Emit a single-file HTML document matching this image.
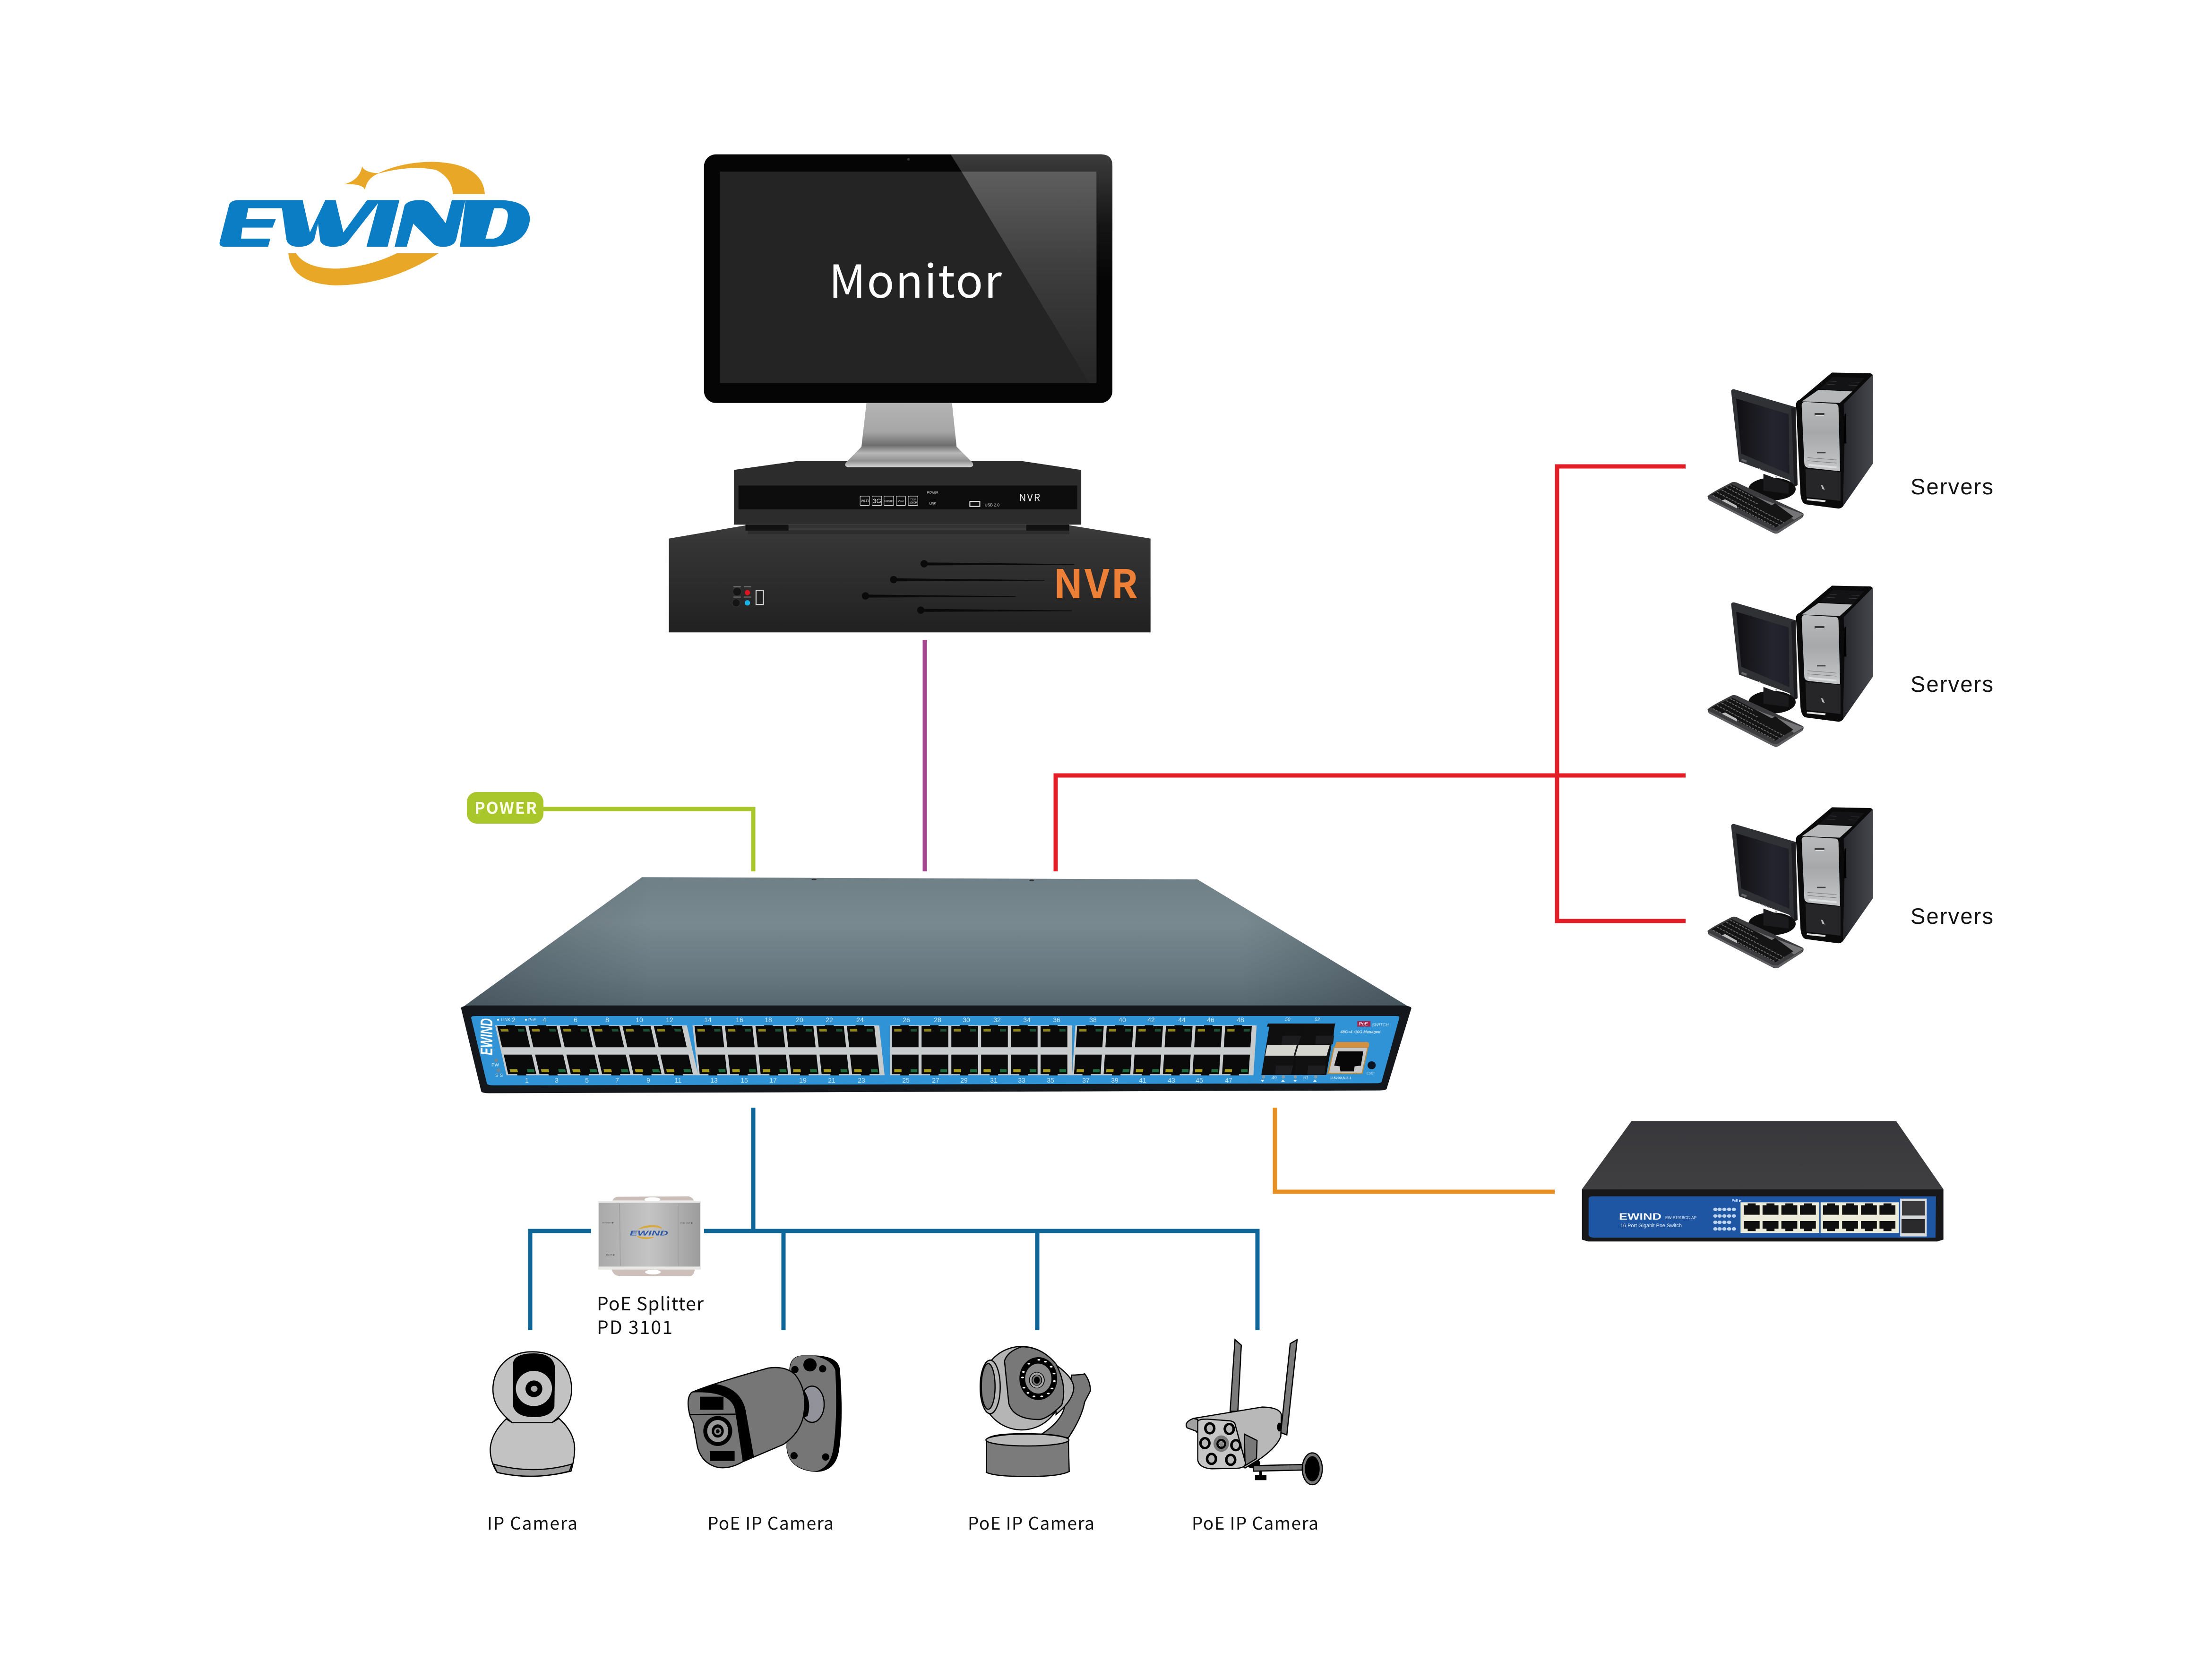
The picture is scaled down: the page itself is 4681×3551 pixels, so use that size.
<!DOCTYPE html>
<html><head><meta charset="utf-8"><title>EWIND PoE Switch Topology</title>
<style>html,body{margin:0;padding:0;background:#fff;width:4681px;height:3551px;overflow:hidden}svg{display:block}
.l{font-family:"Noto Sans CJK SC","Liberation Sans",sans-serif;fill:#111}
.s{font-family:"Liberation Sans",sans-serif}
.ln{fill:none;stroke-linejoin:miter}
.k{stroke:#000;stroke-width:2.5;vector-effect:non-scaling-stroke}
</style></head><body>
<svg xmlns="http://www.w3.org/2000/svg" width="4681" height="3551" viewBox="0 0 4681 3551">
<defs>
<linearGradient id="gl" x1="0" y1="0" x2="0" y2="1"><stop offset="0" stop-color="#5e5e5e"/><stop offset=".45" stop-color="#3e3e3e"/><stop offset="1" stop-color="#262626"/></linearGradient>
<linearGradient id="gb" x1="0" y1="0" x2="0" y2="1"><stop offset="0" stop-color="#3c3c3c"/><stop offset=".55" stop-color="#151515"/><stop offset="1" stop-color="#050505"/></linearGradient>
<linearGradient id="st" x1="0" y1="0" x2="0" y2="1"><stop offset="0" stop-color="#b4b4b4"/><stop offset=".45" stop-color="#a6a6a6"/><stop offset=".66" stop-color="#6e6e6e"/><stop offset=".78" stop-color="#b8b8b8"/><stop offset=".9" stop-color="#909090"/><stop offset="1" stop-color="#d8d8d8"/></linearGradient>
<linearGradient id="bx" x1="0" y1="0" x2="0" y2="1"><stop offset="0" stop-color="#3d3d3d"/><stop offset=".15" stop-color="#353535"/><stop offset="1" stop-color="#212121"/></linearGradient>
<linearGradient id="tp" x1="0" y1="0" x2="0" y2="1"><stop offset="0" stop-color="#6f8087"/><stop offset=".35" stop-color="#78898f"/><stop offset=".75" stop-color="#667780"/><stop offset="1" stop-color="#566770"/></linearGradient>
<linearGradient id="tp2" x1="0" y1="0" x2="1" y2="0"><stop offset="0" stop-color="#2c363c" stop-opacity=".35"/><stop offset=".2" stop-color="#2c363c" stop-opacity="0"/><stop offset=".82" stop-color="#2c363c" stop-opacity="0"/><stop offset="1" stop-color="#2c363c" stop-opacity=".4"/></linearGradient>
<linearGradient id="sp" x1="0" y1="0" x2="1" y2="0"><stop offset="0" stop-color="#a9a9a9"/><stop offset=".5" stop-color="#c4c4c4"/><stop offset="1" stop-color="#9d9d9d"/></linearGradient>
<linearGradient id="sv" x1="0" y1="0" x2="0" y2="1"><stop offset="0" stop-color="#b8babc"/><stop offset=".45" stop-color="#a6a8aa"/><stop offset="1" stop-color="#c4c6c8"/></linearGradient>
<linearGradient id="sc" x1="0" y1="0" x2="1" y2="0"><stop offset="0" stop-color="#101013"/><stop offset=".7" stop-color="#25252f"/><stop offset="1" stop-color="#1e1e28"/></linearGradient>
<linearGradient id="sd" x1="0" y1="0" x2="1" y2="0"><stop offset="0" stop-color="#26272c"/><stop offset="1" stop-color="#46474d"/></linearGradient>
<linearGradient id="ts" x1="0" y1="0" x2="0" y2="1"><stop offset="0" stop-color="#38383c"/><stop offset="1" stop-color="#3f3f41"/></linearGradient>

<g id="pt"><rect x="0" y="3" width="44" height="122" fill="#0a0a0a"/><rect x="14" y="-1" width="14" height="10" fill="#0a0a0a"/><rect x="4" y="19" width="12" height="16" fill="#8f851c"/><rect x="31" y="19" width="10" height="16" fill="#1e4f35"/></g>
<g id="pb"><rect x="0" y="167" width="44" height="112" fill="#0a0a0a"/><rect x="14" y="270" width="14" height="16" fill="#0a0a0a"/><rect x="4" y="250" width="12" height="18" fill="#a59a1c"/><rect x="31" y="250" width="11" height="18" fill="#1f6a3e"/></g>
<g id="blk">
<rect width="300" height="285" fill="#c8cbcb"/>
<use href="#pt" x="3"/><use href="#pt" x="52"/><use href="#pt" x="101"/><use href="#pt" x="150"/><use href="#pt" x="199"/><use href="#pt" x="248"/>
<use href="#pb" x="3"/><use href="#pb" x="52"/><use href="#pb" x="101"/><use href="#pb" x="150"/><use href="#pb" x="199"/><use href="#pb" x="248"/>
</g>

<g id="srv">
<path d="M830,25 L1075,30 Q1092,35 1092,55 L1092,600 L900,875 Q885,892 865,888 L665,862 Q635,855 630,790 L602,225 Q605,205 625,198 Z" fill="#0a0a0b"/>
<path d="M905,225 L1090,38 L1092,600 L900,875 L910,480 Z" fill="url(#sd)"/>
<polygon points="835,52 1035,60 965,140 750,130" fill="#131316"/>
<g stroke="#3a3a3e" stroke-width="3"><line x1="815" y1="80" x2="860" y2="82"/><line x1="800" y1="100" x2="850" y2="102"/><line x1="950" y1="85" x2="1005" y2="87"/><line x1="935" y1="105" x2="990" y2="107"/></g>
<polygon points="745,135 960,145 880,218 640,208" fill="#b5b7b9"/>
<path d="M638,232 Q640,212 662,212 L855,224 Q872,228 872,250 L882,652 L680,630 Q658,626 655,605 Z" fill="url(#sv)"/>
<rect x="720" y="282" width="62" height="16" fill="#3a3a3a"/><rect x="725" y="296" width="56" height="4" fill="#eee"/>
<rect x="735" y="530" width="55" height="8" fill="#444"/>
<line x1="675" y1="565" x2="860" y2="580" stroke="#777" stroke-width="3"/><line x1="675" y1="585" x2="860" y2="600" stroke="#777" stroke-width="3"/>
<polygon points="682,605 860,622 860,634 682,618" fill="#dedede"/>
<polygon points="662,636 885,656 885,840 668,815" fill="#262628"/>
<polygon points="672,825 790,836 788,848 670,836" fill="#dcdcdc"/>
<polygon points="760,738 772,742 785,770 770,765" fill="#bbb"/>
<polygon points="910,290 920,285 922,475 905,475" fill="#000"/>
<path d="M190,142 Q195,128 212,132 L600,245 L612,740 L588,752 L560,708 L240,590 Z" fill="#2f3135"/>
<polygon points="222,190 555,290 560,670 255,540" fill="url(#sc)"/>
<polygon points="572,255 600,245 612,740 590,752" fill="#1d1d20"/>
<g fill="#9a9a9a"><circle cx="370" cy="636" r="4"/><circle cx="388" cy="645" r="4"/><circle cx="407" cy="653" r="4"/><circle cx="426" cy="660" r="4"/><circle cx="477" cy="686" r="6"/></g>
<rect x="255" y="578" width="34" height="14" fill="#666" transform="rotate(20 272 585)"/>
<ellipse cx="450" cy="765" rx="150" ry="72" fill="#0d0d0d"/>
<polygon points="395,668 555,728 555,795 395,775" fill="#1b1b1d"/>
<path d="M40,812 Q50,795 195,722 Q215,715 240,730 L648,918 Q655,935 640,948 L490,1045 Q470,1052 450,1040 L48,835 Z" fill="#3c3c3e"/>
<polygon points="48,835 450,1040 490,1045 640,948 640,935 485,1030 455,1028 52,822" fill="#5e5e62"/>
<polygon points="65,800 195,735 585,940 470,1010" fill="#141414"/>
<polygon points="345,810 395,832 650,925 590,960 460,875" fill="#757578"/>
<polygon points="385,905 470,855 585,940 470,1010" fill="#141414"/>
<g stroke="#68686a" stroke-width="6" stroke-dasharray="14 7" fill="none">
<line x1="100" y1="785" x2="500" y2="995"/><line x1="130" y1="770" x2="525" y2="978"/><line x1="160" y1="755" x2="360" y2="860"/><line x1="185" y1="742" x2="330" y2="818"/><line x1="75" y1="806" x2="130" y2="835"/><line x1="230" y1="880" x2="465" y2="1003"/>
</g>
<polygon points="130,838 152,830 228,872 228,888" fill="#bdbdbd"/>
</g>
</defs>

<!-- logo -->
<g transform="translate(430,310) scale(.4656,.3333)">
<path fill="#0a7dc4" d="M118,370 Q125,340 165,340 L452,340 L485,545 L555,340 L602,340 L637,545 L745,340 L892,340 L838,637 L742,637 L795,360 L660,600 Q640,637 590,637 Q545,637 532,600 L522,490 L505,590 Q485,637 435,637 Q385,637 378,590 L358,392 L205,392 L195,462 L330,462 L315,515 L178,515 L172,585 L305,585 L295,637 L100,637 Q70,637 75,605 Z"/>
<path fill="#0a7dc4" d="M915,375 Q930,340 985,340 Q1020,340 1035,365 L1102,487 L1130,340 L1192,340 L1150,590 Q1140,637 1090,637 Q1055,637 1040,610 L955,490 L925,637 L870,637 Z"/>
<path fill="#0a7dc4" fill-rule="evenodd" d="M1192,340 L1340,340 Q1485,340 1485,465 Q1470,637 1300,637 L1167,637 Z M1322,392 L1283,585 L1320,585 Q1375,570 1385,440 Q1385,392 1350,392 Z"/>
<path fill="#e8a727" d="M722,127 Q735,165 795,170 Q900,100 1040,97 Q1270,105 1280,302 L1135,302 Q1130,200 1060,150 Q950,115 795,172 Q745,200 735,275 Q725,235 640,240 Q710,215 722,127 Z"/>
<path fill="#e8a727" d="M387,678 L422,678 Q470,780 620,775 Q760,760 880,678 L1070,678 Q850,880 600,882 Q400,870 387,678 Z"/>
</g>

<!-- connectors -->
<g class="ln" stroke-width="9">
<path stroke="#a9c62b" d="M1149,1712 H1594 V1844"/>
<path stroke="#a5478f" d="M1957,1354 V1844"/>
<path stroke="#e31e26" d="M2234,1844 V1641 H3567 M3567,987 H3295 V1949 H3567"/>
<path stroke="#0f6699" d="M1594,2344 V2605 M1490,2605 H2661 V2815 M1658,2605 V2815 M2195,2605 V2815 M1251,2605 H1122 V2815"/>
<path stroke="#e88f22" d="M2698,2344 V2522 H3290"/>
</g>

<!-- monitor + NVR -->
<g transform="translate(1400,300) scale(.7015)">
<polygon points="22,1197 255,1157 1230,1157 1475,1197 1475,1480 22,1480" fill="url(#bx)"/>
<rect x="260" y="1172" width="970" height="12" fill="#1c1c1c" opacity=".4"/>
<rect x="128" y="38" width="1232" height="750" rx="36" fill="#050505"/>
<path d="M872,38 L1325,38 Q1360,38 1360,72 L1360,420 L1312,420 L1312,90 L905,90 Z" fill="url(#gb)"/>
<rect x="176" y="90" width="1136" height="638" fill="#242424"/>
<polygon points="905,90 1312,90 1312,728 1290,728" fill="url(#gl)"/>
<circle cx="745" cy="53" r="4" fill="#333"/>
<path d="M218,990 L410,963 L1085,963 L1266,990 L1266,1155 L218,1155 Z" fill="#2c2c2c"/>
<rect x="232" y="1037" width="1022" height="72" fill="#0d0d0d"/>
<rect x="253" y="1155" width="130" height="18" fill="#111"/><rect x="1100" y="1155" width="130" height="18" fill="#111"/><rect x="383" y="1155" width="717" height="10" fill="#333"/>
<path d="M618,788 L876,788 L890,920 L938,968 Q945,982 925,982 L570,982 Q548,982 556,968 L603,920 Z" fill="url(#st)"/>
<g fill="none" stroke="#e8e8e8" stroke-width="1.6"><rect x="599" y="1069" width="28" height="28" rx="2"/><rect x="635" y="1069" width="29" height="28" rx="2"/><rect x="671" y="1069" width="29" height="28" rx="2"/><rect x="708" y="1069" width="28" height="28" rx="2"/><rect x="744" y="1069" width="29" height="28" rx="2"/></g>
<g class="s" fill="#e8e8e8" text-anchor="middle"><text x="613" y="1087" font-size="10">Wi-Fi</text><text x="650" y="1090" font-size="19">3G</text><text x="685" y="1087" font-size="9">AUDIO</text><text x="722" y="1087" font-size="9">VGA</text><text x="759" y="1082" font-size="8">720P</text><text x="759" y="1091" font-size="8">1080P</text>
<text x="818" y="1061" font-size="9">POWER</text><text x="818" y="1094" font-size="9">LINK</text><text x="997" y="1100" font-size="12">USB 2.0</text></g>
<rect x="930" y="1085" width="30" height="15" fill="none" stroke="#ddd" stroke-width="3"/>
<text x="1078" y="1084" class="l" style="fill:#eee" font-size="30" textLength="64" lengthAdjust="spacing">NVR</text>
<g fill="#0a0a0a"><circle cx="792" cy="1273" r="11"/><circle cx="700" cy="1321" r="11"/><circle cx="615" cy="1370" r="11"/><circle cx="782" cy="1413" r="11"/>
<polygon points="792,1269 1245,1274 1245,1276 792,1278"/><polygon points="700,1317 1155,1322 1155,1324 700,1326"/><polygon points="615,1366 1068,1371 1068,1373 615,1375"/><polygon points="782,1409 1238,1414 1238,1416 782,1418"/></g>
<circle cx="228" cy="1357" r="13" fill="#141414" stroke="#333" stroke-width="2"/><circle cx="225" cy="1391" r="12" fill="#141414" stroke="#333" stroke-width="2"/><circle cx="259" cy="1360" r="8" fill="#e0141e"/><circle cx="259" cy="1391" r="8" fill="#18b4e8"/>
<rect x="217" y="1341" width="22" height="3" fill="#777"/><rect x="248" y="1341" width="22" height="3" fill="#777"/><rect x="217" y="1372" width="22" height="3" fill="#777"/><rect x="248" y="1372" width="22" height="3" fill="#777"/>
<rect x="285" y="1353" width="22" height="43" fill="#222" stroke="#ddd" stroke-width="3"/>
</g>
<text class="l" x="1754" y="630" font-size="96" style="fill:#fff" textLength="366" lengthAdjust="spacing">Monitor</text>
<text class="l" x="2229" y="1266" font-size="84" font-weight="700" style="fill:#ed8036" textLength="179" lengthAdjust="spacing">NVR</text>

<!-- servers -->
<g transform="translate(3600,780) scale(.3333)"><use href="#srv"/></g>
<g transform="translate(3600,1231) scale(.3333)"><use href="#srv"/></g>
<g transform="translate(3600,1700) scale(.3333)"><use href="#srv"/></g>
<g class="s" fill="#111" font-size="47">
<text x="4043" y="1046" textLength="175" lengthAdjust="spacing">Servers</text>
<text x="4043" y="1464" textLength="175" lengthAdjust="spacing">Servers</text>
<text x="4043" y="1955" textLength="175" lengthAdjust="spacing">Servers</text>
</g>

<!-- power pill -->
<rect x="988" y="1676" width="162" height="67" rx="21" fill="#a9c62b"/>
<text class="l" x="1004" y="1722" font-size="34" font-weight="700" style="fill:#fbfde8" textLength="132" lengthAdjust="spacing">POWER</text>

<!-- main switch -->
<g transform="translate(930,1800) scale(1.339,.36996)">
<polygon points="320,152 1198,165 1535,900 35,900" fill="url(#tp)"/>
<polygon points="320,152 1198,165 1535,900 35,900" fill="url(#tp2)"/>
<circle cx="592" cy="165" r="4" fill="#333"/><circle cx="936" cy="170" r="4" fill="#333"/>
<path d="M34,900 Q36,888 50,886 L1520,886 Q1536,888 1536,902 L1497,1362 Q1496,1372 1485,1372 L78,1388 Q68,1388 66,1378 Z" fill="#14171c"/>
<path d="M58,946 L1510,946 Q1518,946 1517,956 L1489,1322 Q1488,1331 1480,1331 L86,1343 Q76,1343 75,1333 L50,956 Q50,946 58,946Z" fill="#2f93d6"/>
<use href="#blk" transform="matrix(1.01,0,.063,1,88,1000)"/>
<use href="#blk" transform="matrix(.983,0,.03,1,400,1000)"/>
<use href="#blk" transform="matrix(.96,0,0,1,712,1000)"/>
<use href="#blk" transform="matrix(.955,0,-.018,1,1005,1000)"/>
</g>
<!-- right end detail -->
<g transform="translate(2620,2130) scale(.3333)">
<polygon points="190,108 618,108 610,128 182,128" fill="#0e0e0e"/>
<polygon points="200,115 615,115 560,435 148,435" fill="#0e0e0e"/>
<polygon points="185,245 582,245 562,312 172,312" fill="#d5d5d0"/>
<polygon points="205,118 402,118 380,245 185,245" fill="#0f0f10"/>
<polygon points="282,185 402,185 380,245 275,245" fill="#1d1d1f"/>
<polygon points="420,118 612,118 602,240 395,240" fill="#0f0f10"/>
<polygon points="495,185 610,185 602,240 490,240" fill="#1d1d1f"/>
<polygon points="170,312 360,312 335,432 148,432" fill="#111112"/>
<polygon points="240,375 350,375 335,432 235,432" fill="#1e1e20"/>
<polygon points="372,315 560,315 552,425 520,432 355,432" fill="#111112"/>
<polygon points="445,375 555,375 550,425 520,432 440,432" fill="#1e1e20"/>
<line x1="378" y1="245" x2="358" y2="312" stroke="#15171a" stroke-width="10"/>
<path d="M625,225 L815,225 Q835,225 832,250 L826,262 L610,262 Z" fill="#d39040"/>
<polygon points="605,258 828,258 790,428 566,428" fill="#bd8b3c"/>
<polygon points="612,262 820,262 785,420 578,420" fill="#c8c8c8"/>
<polygon points="635,285 795,285 780,375 740,380 735,412 650,412 645,380 610,375" fill="#070707"/>
<ellipse cx="848" cy="373" rx="26" ry="25" fill="#0a1420"/>
<rect x="757" y="92" width="84" height="36" fill="#a5274f"/>
<g fill="#8a9ca4"><circle cx="162" cy="447" r="10"/><circle cx="288" cy="447" r="10"/><circle cx="363" cy="447" r="10"/><circle cx="493" cy="447" r="10"/></g>
<g fill="#e8f3fa"><polygon points="143,465 167,465 155,480"/><polygon points="273,478 297,478 285,463"/><polygon points="350,465 374,465 362,480"/><polygon points="476,478 500,478 488,463"/></g>
<g class="s" fill="#cfe6f5">
<text x="315" y="92" font-size="30" font-style="italic" text-anchor="middle">50</text><text x="503" y="92" font-size="30" font-style="italic" text-anchor="middle">52</text>
<text x="228" y="462" font-size="30" font-style="italic" text-anchor="middle">49</text><text x="430" y="462" font-size="30" font-style="italic" text-anchor="middle">51</text>
<text x="766" y="120" font-size="31" font-style="italic" fill="#fff">PoE</text>
<text x="850" y="126" font-size="27" font-style="italic">SWITCH</text>
<text x="650" y="170" font-size="25" font-style="italic" font-weight="700">48G+4 •10G Managed</text>
<text x="583" y="460" font-size="23" font-weight="700">115200,N,8,1</text>
<text x="815" y="430" font-size="21">ESET</text>
</g>
</g>
<g class="s" fill="#d2e9f8" font-size="14" text-anchor="middle">
<text y="2163"><tspan x="1087">2</tspan><tspan x="1152">4</tspan><tspan x="1218">6</tspan><tspan x="1285">8</tspan><tspan x="1353">10</tspan><tspan x="1417">12</tspan><tspan x="1498">14</tspan><tspan x="1565">16</tspan><tspan x="1626">18</tspan><tspan x="1692">20</tspan><tspan x="1755">22</tspan><tspan x="1820">24</tspan><tspan x="1918">26</tspan><tspan x="1984">28</tspan><tspan x="2045">30</tspan><tspan x="2110">32</tspan><tspan x="2173">34</tspan><tspan x="2236">36</tspan><tspan x="2313">38</tspan><tspan x="2375">40</tspan><tspan x="2436">42</tspan><tspan x="2501">44</tspan><tspan x="2562">46</tspan><tspan x="2625">48</tspan></text>
<text y="2291"><tspan x="1115">1</tspan><tspan x="1178">3</tspan><tspan x="1242">5</tspan><tspan x="1306">7</tspan><tspan x="1372">9</tspan><tspan x="1435">11</tspan><tspan x="1511">13</tspan><tspan x="1575">15</tspan><tspan x="1636">17</tspan><tspan x="1699">19</tspan><tspan x="1760">21</tspan><tspan x="1823">23</tspan><tspan x="1917">25</tspan><tspan x="1980">27</tspan><tspan x="2040">29</tspan><tspan x="2103">31</tspan><tspan x="2162">33</tspan><tspan x="2223">35</tspan><tspan x="2298">37</tspan><tspan x="2359">39</tspan><tspan x="2418">41</tspan><tspan x="2479">43</tspan><tspan x="2538">45</tspan><tspan x="2600">47</tspan></text>
</g>
<g class="s" fill="#d8ecf9">
<circle cx="1054" cy="2158" r="2" fill="#e8f4fb"/><text x="1060" y="2161" font-size="9">LINK</text>
<circle cx="1113" cy="2158" r="2" fill="#e8f4fb"/><text x="1118" y="2161" font-size="9">PoE</text>
<circle cx="1050" cy="2244" r="4" fill="#6f8796"/><circle cx="1055" cy="2265" r="4" fill="#6f8796"/>
<text x="1040" y="2257" font-size="10">PW</text><text x="1048" y="2279" font-size="10">S S</text>
<text transform="translate(1042,2233) rotate(-90)" font-size="36" font-weight="700" font-style="italic" fill="#fff" textLength="78" lengthAdjust="spacingAndGlyphs">EWIND</text>
</g>

<!-- small switch -->
<g transform="translate(3300,2340) scale(.5612,.3333)">
<polygon points="272,97 1270,97 1448,530 85,530" fill="url(#ts)"/>
<polygon points="85,530 1448,530 1448,850 1425,862 108,862 85,850" fill="#18181a"/>
<path d="M125,575 L1420,575 L1418,838 L135,838 Q112,838 110,820 L110,590 Q112,575 125,575Z" fill="#1f56a3"/>
<rect x="683" y="613" width="297" height="195" fill="#ecead8"/><rect x="985" y="613" width="295" height="195" fill="#ecead8"/>
<g fill="#101010">
<path d="M695,632H710V620H740V632H755V692H695Z"/><path d="M766,632H781V620H811V632H826V692H766Z"/><path d="M837,632H852V620H882V632H897V692H837Z"/><path d="M907,632H922V620H952V632H967V692H907Z"/>
<path d="M994,632H1009V620H1039V632H1054V692H994Z"/><path d="M1066,632H1081V620H1111V632H1126V692H1066Z"/><path d="M1137,632H1152V620H1182V632H1197V692H1137Z"/><path d="M1207,632H1222V620H1252V632H1267V692H1207Z"/>
<path d="M695,732H755V780H740V796H710V780H695Z"/><path d="M766,732H826V780H811V796H781V780H766Z"/><path d="M837,732H897V780H882V796H852V780H837Z"/><path d="M907,732H967V780H952V796H922V780H907Z"/>
<path d="M994,732H1054V780H1039V796H1009V780H994Z"/><path d="M1066,732H1126V780H1111V796H1081V780H1066Z"/><path d="M1137,732H1197V780H1182V796H1152V780H1137Z"/><path d="M1207,732H1267V780H1252V796H1222V780H1207Z"/>
</g>
<rect x="1285" y="590" width="100" height="240" fill="#d8dada"/>
<rect x="1292" y="605" width="86" height="92" fill="#3a3a3c"/><rect x="1290" y="720" width="88" height="90" fill="#2a2a2c"/>
<g fill="#bcd4ee">
<ellipse cx="588" cy="658" rx="8" ry="11"/><ellipse cx="604" cy="658" rx="8" ry="11"/><ellipse cx="622" cy="658" rx="8" ry="11"/><ellipse cx="640" cy="658" rx="8" ry="11"/><ellipse cx="658" cy="658" rx="8" ry="11"/>
<ellipse cx="588" cy="700" rx="8" ry="11"/><ellipse cx="604" cy="700" rx="8" ry="11"/><ellipse cx="622" cy="700" rx="8" ry="11"/><ellipse cx="640" cy="700" rx="8" ry="11"/><ellipse cx="658" cy="700" rx="8" ry="11"/>
<ellipse cx="588" cy="740" rx="8" ry="11"/><ellipse cx="604" cy="740" rx="8" ry="11"/><ellipse cx="622" cy="740" rx="8" ry="11"/><ellipse cx="640" cy="740" rx="8" ry="11"/>
<ellipse cx="588" cy="782" rx="8" ry="11"/><ellipse cx="604" cy="782" rx="8" ry="11"/><ellipse cx="622" cy="782" rx="8" ry="11"/><ellipse cx="640" cy="782" rx="8" ry="11"/><ellipse cx="658" cy="782" rx="8" ry="11"/>
</g>
</g>
<g class="s" fill="#e6eef8">
<text x="3426" y="2581" font-size="19" font-weight="700" fill="#f4f6fa" textLength="90" lengthAdjust="spacingAndGlyphs">EWIND</text>
<text x="3524" y="2580" font-size="9" textLength="66" lengthAdjust="spacingAndGlyphs">EW-S1918CG-AP</text>
<text x="3429" y="2597" font-size="11" textLength="130" lengthAdjust="spacingAndGlyphs">16 Port Gigabit Poe Switch</text>
<text x="3665" y="2543" font-size="7">PoE ▶</text>
</g>

<!-- splitter -->
<g transform="translate(1220,2500) scale(.3333)">
<path d="M228,122 Q240,98 265,98 L710,95 Q735,100 745,122 Z" fill="#c9bfb8"/>
<path d="M222,556 Q235,600 270,600 L720,602 Q745,600 752,556 Z" fill="#cdbfba"/>
<ellipse cx="482" cy="115" rx="50" ry="14" fill="#fff"/><ellipse cx="485" cy="576" rx="50" ry="15" fill="#fff"/>
<rect x="137" y="125" width="652" height="435" fill="#e8e8e6"/>
<rect x="141" y="136" width="642" height="405" fill="url(#sp)"/>
<line x1="275" y1="140" x2="277" y2="538" stroke="#7e7e7e" stroke-width="2"/><line x1="650" y1="140" x2="650" y2="538" stroke="#8a8a8a" stroke-width="2"/>
<path d="M390,305 Q430,272 510,280 Q545,288 540,300 Q490,280 390,305Z" fill="#d8a83a"/><path d="M385,350 Q430,375 490,355 Q440,362 385,350Z" fill="#d8a83a" stroke="#d8a83a" stroke-width="5"/>
<text x="338" y="343" class="s" font-size="44" font-weight="700" font-style="italic" fill="#2d5aa8" textLength="244" lengthAdjust="spacingAndGlyphs">EWIND</text>
<g class="s" fill="#555" font-size="15"><text x="165" y="267">Ethernet ▶</text><text x="188" y="471">DC IN ▶</text><text x="660" y="269">PoE OUT ▶</text></g>
</g>
<text class="l" x="1263" y="2773" font-size="39" textLength="226" lengthAdjust="spacing">PoE Splitter</text>
<text class="l" x="1263" y="2823" font-size="39" textLength="160" lengthAdjust="spacing">PD 3101</text>

<!-- cameras 1 + 2 -->
<g transform="translate(950,2800) scale(.6378,.3333)">
<path class="k" d="M190,608 L210,632 L342,632 L365,605 Q420,700 417,810 Q415,880 405,940 Q280,1000 160,948 Q137,880 137,800 Q140,700 190,608Z" fill="#c2c2c2"/>
<path class="k" d="M147,895 Q280,965 408,895 L400,940 Q280,1000 160,948 Z" fill="#9b9b9b"/>
<path class="k" d="M276,182 C370,182 407,300 407,420 C407,510 385,570 342,632 L210,632 C170,570 146,510 146,420 C146,300 190,182 276,182Z" fill="#c2c2c2"/>
<path d="M213,250 Q220,192 282,192 Q345,192 352,280 L350,530 Q340,597 282,597 Q225,597 213,530 Z" fill="#000"/>
<ellipse cx="282" cy="415" rx="60" ry="112" fill="#c2c2c2"/><ellipse cx="282" cy="417" rx="28" ry="53" fill="#000"/><ellipse cx="283" cy="417" rx="11" ry="19" fill="#aaa"/>

<path d="M1170,205 L1215,205 Q1290,210 1297,290 Q1310,600 1295,800 Q1285,945 1215,945 Q1125,930 1120,790 Q1125,400 1130,280 Q1135,210 1170,205Z" fill="#000"/>
<path d="M1170,207 L1210,207 Q1270,230 1282,300 Q1290,600 1275,800 Q1265,920 1215,942 Q1125,925 1122,790 Q1127,400 1132,280 Q1137,212 1170,207Z" fill="#767676"/>
<ellipse cx="1198" cy="265" rx="22" ry="42" fill="#000"/><ellipse cx="1148" cy="295" rx="12" ry="23" fill="#000"/><ellipse cx="1240" cy="290" rx="12" ry="23" fill="#000"/><ellipse cx="1145" cy="842" rx="12" ry="23" fill="#000"/><ellipse cx="1250" cy="850" rx="12" ry="23" fill="#000"/>
<ellipse class="k" cx="1205" cy="515" rx="40" ry="115" fill="#92929a"/>
<path d="M1178,425 Q1205,500 1190,590 L1178,600 Z" fill="#000"/>
<path class="k" d="M805,440 Q880,380 1060,285 Q1120,270 1150,330 Q1190,430 1178,570 Q1170,690 1110,770 Q1000,860 975,880 Q930,930 890,915 Q840,890 825,790 L810,630 L800,590 Q785,480 805,440Z" fill="#767676"/>
<path d="M880,385 Q970,410 985,560 L1012,850 L975,880 L950,560 Q940,430 810,440 Z" fill="#000"/>
<rect x="833" y="467" width="78" height="83" fill="#000"/><line class="k" x1="800" y1="580" x2="960" y2="578"/>
<ellipse cx="892" cy="685" rx="48" ry="95" fill="#000"/><ellipse cx="892" cy="685" rx="35" ry="70" fill="#9a9a9a"/><ellipse cx="892" cy="685" rx="20" ry="42" fill="#000"/><ellipse cx="892" cy="687" rx="12" ry="23" fill="#888"/><ellipse cx="892" cy="687" rx="6" ry="13" fill="#000"/>
<rect x="866" y="812" width="82" height="63" fill="#000"/>
</g>

<!-- cameras 3 + 4 -->
<g transform="translate(1950,2800) scale(.6059,.3333)">
<path class="k" d="M420,705 Q490,620 500,530 L525,330 Q560,328 570,322 Q590,370 590,430 L570,500 Q560,600 513,728 Z" fill="#787878"/>
<path class="k" d="M227,745 Q230,700 370,702 Q510,705 513,745 L516,942 Q480,975 370,973 Q260,975 227,948 Z" fill="#7b7b7b"/>
<ellipse class="k" cx="370" cy="742" rx="145" ry="38" fill="#b8b8b8"/>
<path class="k" d="M465,260 Q530,340 532,410 Q530,490 470,580 Z" fill="#adadad"/>
<ellipse class="k" cx="350" cy="413" rx="142" ry="265" fill="#b5b5b5"/>
<ellipse class="k" cx="240" cy="405" rx="35" ry="170" fill="#b5b5b5"/>
<ellipse class="k" cx="233" cy="402" rx="24" ry="145" fill="#7d7d7d"/>
<path class="k" d="M350,150 Q420,150 470,260 Q510,400 490,520 Q440,610 410,612 Q320,610 305,510 L290,240 Q300,180 350,150Z" fill="#787878"/>
<ellipse cx="408" cy="352" rx="66" ry="136" fill="#000"/><ellipse cx="408" cy="352" rx="46" ry="95" fill="#8a8a8a"/>
<g fill="#fff"><circle cx="410" cy="233" r="5"/><circle cx="433" cy="245" r="5"/><circle cx="453" cy="277" r="5"/><circle cx="463" cy="320" r="5"/><circle cx="464" cy="368" r="5"/><circle cx="456" cy="415" r="5"/><circle cx="443" cy="447" r="5"/><circle cx="420" cy="465" r="5"/><circle cx="393" cy="465" r="5"/><circle cx="372" cy="443" r="5"/><circle cx="358" cy="410" r="5"/><circle cx="353" cy="345" r="5"/><circle cx="356" cy="310" r="5"/><circle cx="375" cy="258" r="5"/></g>
<ellipse cx="403" cy="362" rx="26" ry="50" fill="#aaa" stroke="#000" stroke-width="3"/><ellipse cx="403" cy="362" rx="17" ry="34" fill="#777" stroke="#000" stroke-width="3"/><ellipse cx="403" cy="362" rx="10" ry="22" fill="#000"/>

<polygon class="k" points="1095,105 1117,140 1105,560 1078,560" fill="#7a7a7a"/>
<polygon class="k" points="1312,105 1288,130 1255,695 1276,710" fill="#7a7a7a"/>
<ellipse cx="1158" cy="890" rx="25" ry="32" fill="#000"/>
<path class="k" d="M950,605 Q1100,560 1190,533 Q1250,535 1257,580 L1255,720 Q1240,790 1180,865 L1130,920 L960,690 Z" fill="#b8b8b8"/>
<ellipse cx="1250" cy="660" rx="8" ry="28" fill="#000"/>
<path class="k" d="M950,605 Q915,630 928,665 L965,690 L965,612 Z" fill="#a0a0a0"/>
<polygon class="k" points="1128,705 1172,745 1170,860 1130,905" fill="#787878"/>
<path class="k" d="M965,625 Q968,608 1000,610 L1075,620 Q1090,622 1095,640 L1132,890 Q1130,920 1100,922 L1015,925 Q970,920 965,870 Z" fill="#c6c6c6"/>
<g fill="#000"><ellipse cx="1007" cy="668" rx="20" ry="39"/><ellipse cx="1075" cy="672" rx="20" ry="39"/><ellipse cx="990" cy="762" rx="20" ry="39"/><ellipse cx="1098" cy="775" rx="20" ry="39"/><ellipse cx="1013" cy="862" rx="20" ry="39"/><ellipse cx="1080" cy="868" rx="20" ry="39"/></g>
<g fill="#b8b8b8"><ellipse cx="1007" cy="668" rx="11" ry="24"/><ellipse cx="1075" cy="672" rx="11" ry="24"/><ellipse cx="990" cy="762" rx="11" ry="24"/><ellipse cx="1098" cy="775" rx="11" ry="24"/><ellipse cx="1013" cy="862" rx="11" ry="24"/><ellipse cx="1080" cy="868" rx="11" ry="24"/></g>
<ellipse cx="1047" cy="765" rx="27" ry="52" fill="#777"/><ellipse cx="1047" cy="767" rx="17" ry="32" fill="#000"/><ellipse cx="1047" cy="767" rx="9" ry="17" fill="#888" stroke="#fff" stroke-width="2" stroke-dasharray="3 4"/>
<polygon class="k" points="1160,905 1350,897 1350,932 1160,940" fill="#787878"/>
<rect x="1180" y="938" width="10" height="30" fill="#000"/><rect x="1165" y="965" width="40" height="32" fill="#000"/>
<ellipse class="k" cx="1365" cy="925" rx="35" ry="101" fill="#787878"/><ellipse cx="1365" cy="925" rx="26" ry="80" fill="#000"/>
</g>

<!-- camera labels -->
<g class="l" font-size="37">
<text x="1031" y="3237" textLength="191" lengthAdjust="spacing">IP Camera</text>
<text x="1497" y="3237" textLength="267" lengthAdjust="spacing">PoE IP Camera</text>
<text x="2048" y="3237" textLength="268" lengthAdjust="spacing">PoE IP Camera</text>
<text x="2522" y="3237" textLength="268" lengthAdjust="spacing">PoE IP Camera</text>
</g>
</svg>
</body></html>
